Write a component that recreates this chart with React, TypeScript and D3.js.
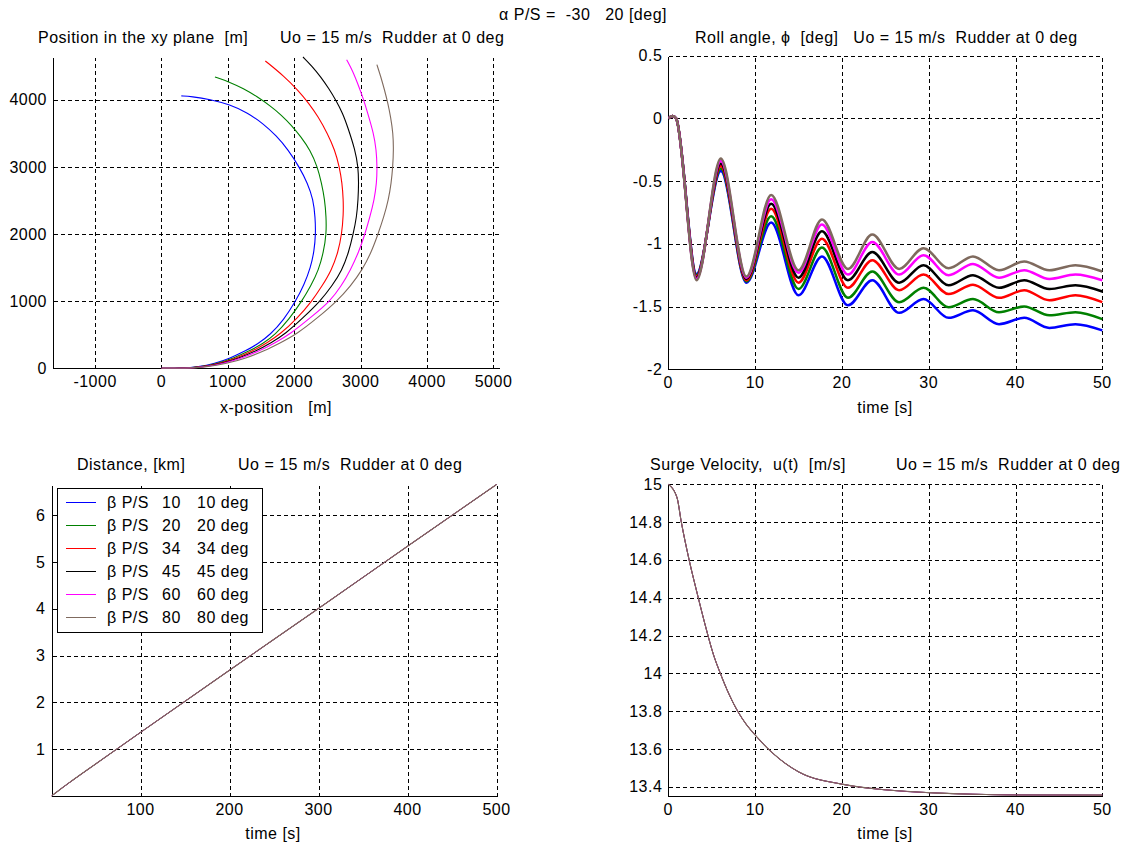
import React from "react";
import * as d3 from "d3";

type P = [number, number];

// ---------- data ----------
const BETA = [10, 20, 34, 45, 60, 80];
const COLORS = ["#0000ff", "#008000", "#ff0000", "#000000", "#ff00ff", "#7f6a5e"];

// xy-plane trajectories [x m, y m]
const xy10: P[] = [[0,0],[300,0],[560,20],[800,70],[1030,150],[1270,260],[1460,370],[1636,500],[1840,720],[2020,1000],[2150,1250],[2245,1500],[2300,1750],[2322,2000],[2315,2250],[2285,2517],[2200,2760],[2075,3000],[1910,3256],[1725,3470],[1540,3640],[1295,3810],[1030,3930],[730,4010],[450,4052],[299,4060]];
const xy20: P[] = [[0,0],[320,0],[590,20],[840,70],[1080,150],[1330,260],[1530,370],[1711,500],[1920,730],[2114,1000],[2250,1230],[2365,1460],[2440,1730],[2483,2000],[2480,2260],[2458,2517],[2410,2760],[2350,3000],[2240,3250],[2100,3450],[1960,3620],[1800,3780],[1640,3910],[1440,4050],[1235,4170],[1020,4270],[805,4342]];
const xy34: P[] = [[0,0],[330,0],[610,20],[870,70],[1120,150],[1380,260],[1590,380],[1787,510],[2040,740],[2265,1000],[2420,1230],[2560,1460],[2660,1730],[2715,2000],[2740,2300],[2738,2517],[2720,2760],[2680,3000],[2610,3256],[2500,3500],[2360,3750],[2220,3950],[2050,4150],[1850,4350],[1564,4581]];
const xy45: P[] = [[0,0],[340,0],[630,20],[900,70],[1160,150],[1430,260],[1650,380],[1862,510],[2140,760],[2390,1000],[2570,1230],[2718,1460],[2820,1730],[2887,2000],[2940,2260],[2961,2517],[2970,2760],[2962,3000],[2916,3256],[2804,3598],[2730,3800],[2627,3995],[2520,4170],[2399,4342],[2270,4500],[2131,4640]];
const xy60: P[] = [[0,0],[350,0],[650,20],[930,70],[1200,150],[1480,260],[1710,380],[1938,510],[2250,760],[2541,1000],[2710,1230],[2843,1460],[2970,1730],[3064,2000],[3140,2260],[3205,2517],[3240,2760],[3248,3000],[3235,3256],[3195,3500],[3107,3797],[3040,4020],[2955,4243],[2880,4430],[2788,4600]];
const xy80: P[] = [[0,0],[360,0],[680,20],[980,70],[1270,150],[1550,260],[1790,380],[2038,510],[2360,760],[2642,1000],[2850,1230],[3020,1460],[3160,1730],[3261,2000],[3350,2260],[3419,2517],[3460,2760],[3483,3000],[3495,3256],[3488,3500],[3451,3747],[3410,3950],[3360,4144],[3305,4340],[3244,4526]];
const XY = [xy10, xy20, xy34, xy45, xy60, xy80];

// roll angle [deg] vs time [s]
const rollTime = [0, 0.5, 0.9, 3.25, 6.05, 9.0, 11.85, 15.0, 17.7, 20.7, 23.5, 26.6, 29.4, 32.3, 35.1, 38.1, 41.0, 43.9, 46.9, 50];
const roll10 = [0, 0.02, 0, -1.24, -0.42, -1.31, -0.83, -1.41, -1.10, -1.49, -1.29, -1.55, -1.44, -1.59, -1.53, -1.64, -1.59, -1.67, -1.64, -1.69];
const roll20 = [0, 0.02, 0, -1.25, -0.40, -1.30, -0.78, -1.36, -1.03, -1.43, -1.22, -1.465, -1.35, -1.505, -1.44, -1.545, -1.50, -1.57, -1.545, -1.60];
const roll34 = [0, 0.02, 0, -1.26, -0.38, -1.29, -0.72, -1.31, -0.96, -1.35, -1.13, -1.37, -1.245, -1.40, -1.325, -1.43, -1.37, -1.45, -1.41, -1.465];
const roll45 = [0, 0.02, 0, -1.27, -0.36, -1.28, -0.68, -1.27, -0.90, -1.29, -1.065, -1.31, -1.17, -1.33, -1.25, -1.35, -1.29, -1.36, -1.33, -1.38];
const roll60 = [0, 0.02, 0, -1.28, -0.34, -1.27, -0.645, -1.23, -0.845, -1.245, -0.985, -1.245, -1.09, -1.25, -1.16, -1.27, -1.21, -1.28, -1.245, -1.29];
const roll80 = [0, 0.02, 0, -1.29, -0.32, -1.26, -0.61, -1.21, -0.805, -1.20, -0.925, -1.20, -1.035, -1.195, -1.10, -1.21, -1.14, -1.21, -1.17, -1.22];
const ROLL = [roll10, roll20, roll34, roll45, roll60, roll80];

// distance [km] vs time [s]
const distTime = [0, 10, 20, 50, 100, 200, 300, 400, 500];
const distKm = [0, 0.145, 0.285, 0.69, 1.36, 2.69, 4.01, 5.34, 6.66];

// surge velocity [m/s] vs time [s]
const surgeTime = [0, 1.0, 1.5, 2.4, 3.4, 4.4, 5.2, 6.0, 7.0, 8.0, 9.0, 10, 12, 15, 20, 25, 30, 35, 40, 50];
const surgeVel = [15.0, 14.93, 14.8, 14.6, 14.41, 14.23, 14.1, 14.0, 13.89, 13.8, 13.73, 13.675, 13.58, 13.48, 13.415, 13.385, 13.37, 13.362, 13.358, 13.357];

// ticks
const xyXTicks = [-1000, 0, 1000, 2000, 3000, 4000, 5000];
const xyYTicks = [0, 1000, 2000, 3000, 4000];
const rollXTicks = [0, 10, 20, 30, 40, 50];
const rollYTicks = [0.5, 0, -0.5, -1, -1.5, -2];
const distXTicks = [100, 200, 300, 400, 500];
const distYTicks = [1, 2, 3, 4, 5, 6];
const surgeXTicks = [0, 10, 20, 30, 40, 50];
const surgeYTicks = [13.4, 13.6, 13.8, 14, 14.2, 14.4, 14.6, 14.8, 15];

const FONT = "'Liberation Sans', Arial, Helvetica, sans-serif";
const FS = 16;
const LS = 0.5;

const snap = (v: number) => Math.round(v) + 0.5;

function Panel(props: {
  id: string;
  xs: d3.ScaleLinear<number, number>;
  ys: d3.ScaleLinear<number, number>;
  xTicks: number[];
  yTicks: number[];
  children?: React.ReactNode;
}) {
  const { id, xs, ys, xTicks, yTicks, children } = props;
  const [x0, x1] = xs.range();
  const [y0, y1] = ys.range();
  const L = snap(x0), R = snap(x1), B = snap(y0), T = snap(y1);
  return (
    <g>
      <defs>
        <clipPath id={id}>
          <rect x={x0} y={y1 - 2} width={x1 - x0 + 2} height={y0 - y1 + 4} />
        </clipPath>
      </defs>
      {xTicks.map((t) => (
        <line key={"gx" + t} x1={snap(xs(t))} x2={snap(xs(t))} y1={B} y2={T}
          stroke="#000" strokeWidth={1} strokeDasharray="4,3" shapeRendering="crispEdges" />
      ))}
      {yTicks.map((t) => (
        <line key={"gy" + t} x1={L} x2={R} y1={snap(ys(t))} y2={snap(ys(t))}
          stroke="#000" strokeWidth={1} strokeDasharray="4,3" shapeRendering="crispEdges" />
      ))}
      <line x1={L} x2={R} y1={B} y2={B} stroke="#000" strokeWidth={1} shapeRendering="crispEdges" />
      <line x1={L} x2={L} y1={B} y2={T} stroke="#000" strokeWidth={1} shapeRendering="crispEdges" />
      {xTicks.map((t) => (
        <text key={"lx" + t} x={xs(t)} y={y0 + 19} textAnchor="middle">{String(t)}</text>
      ))}
      {yTicks.map((t) => (
        <text key={"ly" + t} x={x0 - 6} y={ys(t) + 5.5} textAnchor="end">{String(t)}</text>
      ))}
      <g clipPath={`url(#${id})`}>{children}</g>
    </g>
  );
}

export default function App() {
  // top-left: xy plane
  const xsXY = d3.scaleLinear().domain([-1634, 5083]).range([53, 499]);
  const ysXY = d3.scaleLinear().domain([0, 4640]).range([368.3, 57]);
  const lineXY = d3.line<P>().x((d) => xsXY(d[0])).y((d) => ysXY(d[1])).curve(d3.curveBasis);

  // top-right: roll
  const xsR = d3.scaleLinear().domain([0, 50]).range([668.3, 1102.3]);
  const ysR = d3.scaleLinear().domain([-2, 0.5]).range([369.3, 55.7]);
  const lineR = d3.line<number>().x((_, i) => xsR(rollTime[i])).y((d) => ysR(d)).curve(d3.curveMonotoneX);

  // bottom-left: distance
  const xsD = d3.scaleLinear().domain([0, 500]).range([51.5, 496.5]);
  const ysD = d3.scaleLinear().domain([0, 6.66]).range([796, 484.5]);
  const lineD = d3.line<number>().x((_, i) => xsD(distTime[i])).y((d) => ysD(d)).curve(d3.curveMonotoneX);

  // bottom-right: surge
  const xsS = d3.scaleLinear().domain([0, 50]).range([668.3, 1102.3]);
  const ysS = d3.scaleLinear().domain([13.355, 15]).range([795.5, 484.3]);
  const lineS = d3.line<number>().x((_, i) => xsS(surgeTime[i])).y((d) => ysS(d)).curve(d3.curveMonotoneX);

  const legendRows = BETA.map((b, i) => ({ b, c: COLORS[i], y: 502 + i * 23 }));
  const last = BETA.length - 1;

  return (
    <svg width={1143} height={847} viewBox="0 0 1143 847"
      style={{ position: "absolute", left: 0, top: 0, background: "#fff" }}
      fontFamily={FONT} fontSize={FS} letterSpacing={LS} fill="#000">
      <rect x={0} y={0} width={1143} height={847} fill="#fff" />

      <text x={583} y={20} textAnchor="middle" style={{ whiteSpace: "pre" }}>{"α P/S =  -30   20 [deg]"}</text>

      {/* top-left */}
      <text x={38} y={43} style={{ whiteSpace: "pre" }}>{"Position in the xy plane  [m]"}</text>
      <text x={280} y={43} style={{ whiteSpace: "pre" }}>{"Uo = 15 m/s  Rudder at 0 deg"}</text>
      <Panel id="cTL" xs={xsXY} ys={ysXY} xTicks={xyXTicks} yTicks={xyYTicks}>
        {XY.map((d, i) => (
          <path key={i} d={lineXY(d) || ""} fill="none" stroke={COLORS[i]} strokeWidth={1.1} />
        ))}
      </Panel>
      <text x={276} y={413} textAnchor="middle" style={{ whiteSpace: "pre" }}>{"x-position   [m]"}</text>

      {/* top-right */}
      <text x={695} y={43} style={{ whiteSpace: "pre" }}>{"Roll angle, ϕ  [deg]   Uo = 15 m/s  Rudder at 0 deg"}</text>
      <Panel id="cTR" xs={xsR} ys={ysR} xTicks={rollXTicks} yTicks={rollYTicks}>
        {ROLL.map((d, i) => (
          <path key={i} d={lineR(d) || ""} fill="none" stroke={COLORS[i]} strokeWidth={2.5} strokeLinejoin="round" />
        ))}
      </Panel>
      <text x={885} y={413} textAnchor="middle">time [s]</text>

      {/* bottom-left */}
      <text x={77} y={470} style={{ whiteSpace: "pre" }}>{"Distance, [km]"}</text>
      <text x={238} y={470} style={{ whiteSpace: "pre" }}>{"Uo = 15 m/s  Rudder at 0 deg"}</text>
      <Panel id="cBL" xs={xsD} ys={ysD} xTicks={distXTicks} yTicks={distYTicks}>
        {BETA.map((_, i) => (
          <path key={i} d={lineD(distKm) || ""} fill="none" stroke={COLORS[i]} strokeWidth={i === last ? 1.1 : 0.5} />
        ))}
      </Panel>
      <text x={273} y={839} textAnchor="middle">time [s]</text>

      {/* legend */}
      <g>
        <rect x={57.5} y={488.5} width={205} height={144} fill="#fff" stroke="#000" strokeWidth={1} shapeRendering="crispEdges" />
        {legendRows.map((r) => (
          <g key={r.b}>
            <line x1={66} x2={96} y1={r.y + 0.5} y2={r.y + 0.5} stroke={r.c} strokeWidth={1} shapeRendering="crispEdges" />
            <text x={107} y={r.y + 6} style={{ whiteSpace: "pre" }}>{"β P/S"}</text>
            <text x={162} y={r.y + 6}>{String(r.b)}</text>
            <text x={197} y={r.y + 6}>{`${r.b} deg`}</text>
          </g>
        ))}
      </g>

      {/* bottom-right */}
      <text x={650} y={470} style={{ whiteSpace: "pre" }}>{"Surge Velocity,  u(t)  [m/s]"}</text>
      <text x={896} y={470} style={{ whiteSpace: "pre" }}>{"Uo = 15 m/s  Rudder at 0 deg"}</text>
      <Panel id="cBR" xs={xsS} ys={ysS} xTicks={surgeXTicks} yTicks={surgeYTicks}>
        {BETA.map((_, i) => (
          <path key={i} d={lineS(surgeVel) || ""} fill="none" stroke={COLORS[i]} strokeWidth={i === last ? 1.1 : 0.5} />
        ))}
      </Panel>
      <text x={885} y={839} textAnchor="middle">time [s]</text>
    </svg>
  );
}
